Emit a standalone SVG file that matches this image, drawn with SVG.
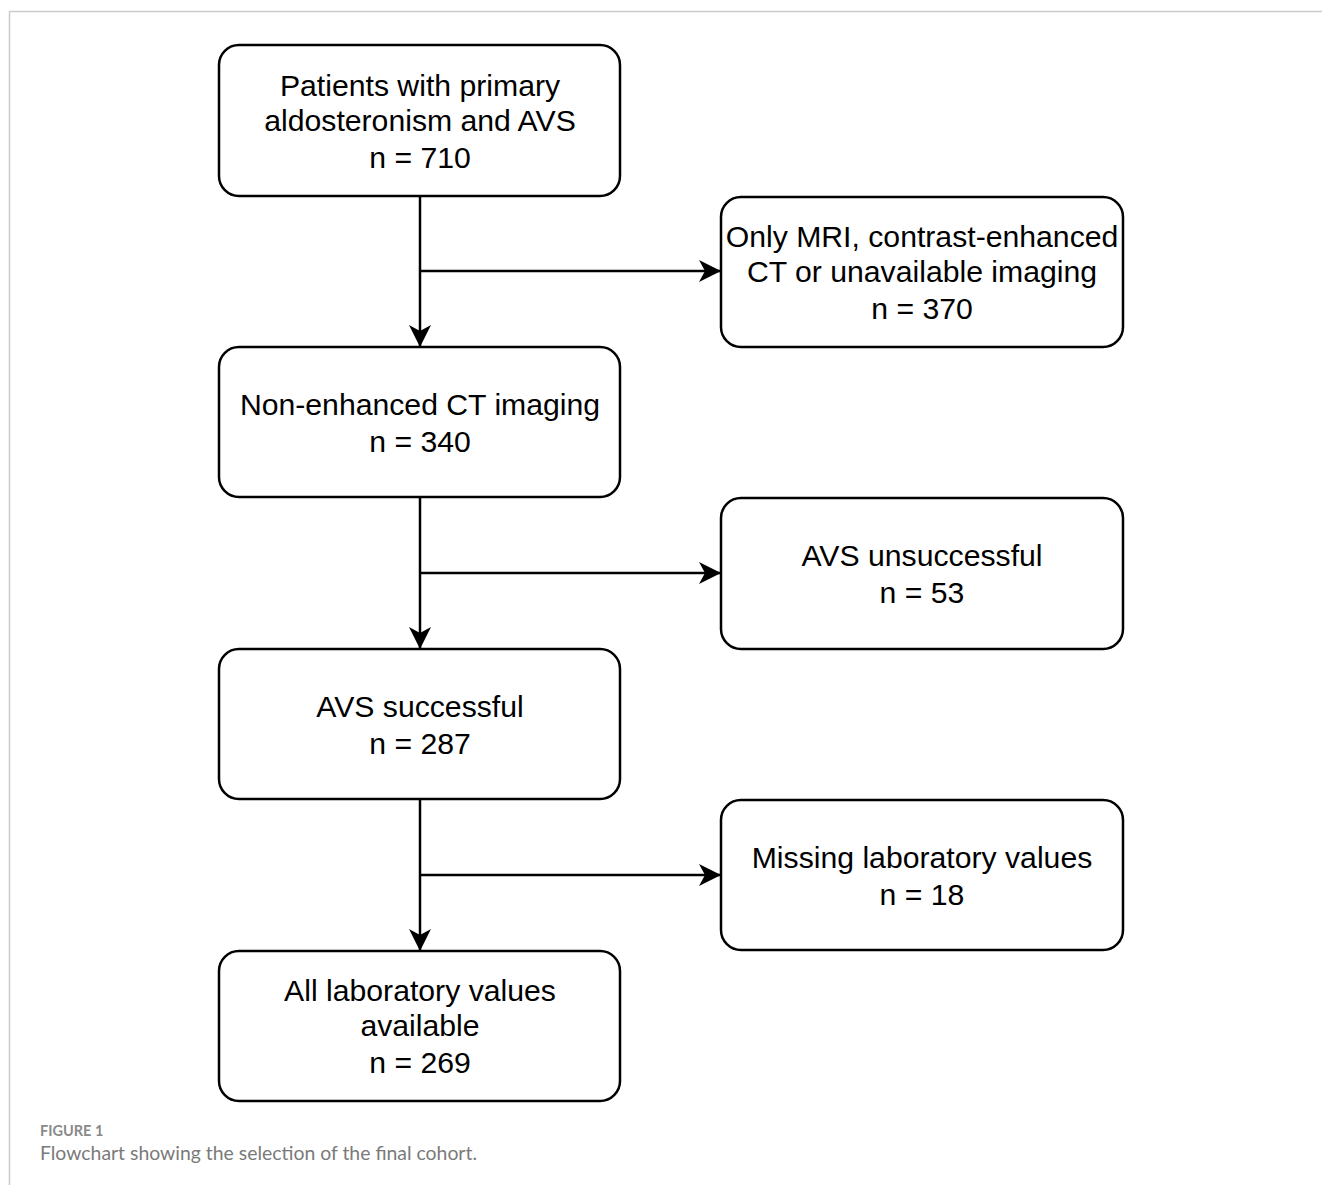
<svg xmlns="http://www.w3.org/2000/svg" width="1322" height="1185" viewBox="0 0 1322 1185">
<style>
.box{fill:#fff;stroke:#000;stroke-width:2.5}
.t{font-family:"Liberation Sans",Arial,sans-serif;font-size:30.2px;fill:#000;text-anchor:middle}
.c{fill:none;stroke:#000;stroke-width:2.5}
.frame{fill:none;stroke:#ccc;stroke-width:1.5}
</style>
<defs>
<marker id="ah" markerWidth="24" markerHeight="24" refX="22" refY="12" orient="auto" markerUnits="userSpaceOnUse">
<path d="M0,1 L22,12 L0,23 L6,12 Z" fill="#000"/>
</marker>
</defs>
<rect width="1322" height="1185" fill="#fff"/>
<path class="frame" d="M9.5,1185 V11.5 H1322"/>
<g id="connectors">
<path class="c" d="M420,196 V347" marker-end="url(#ah)"/>
<path class="c" d="M420,271 H721" marker-end="url(#ah)"/>
<path class="c" d="M420,497 V649" marker-end="url(#ah)"/>
<path class="c" d="M420,573 H721" marker-end="url(#ah)"/>
<path class="c" d="M420,799 V951" marker-end="url(#ah)"/>
<path class="c" d="M420,875 H721" marker-end="url(#ah)"/>
</g>
<g id="n1">
<rect class="box" x="219" y="45" width="401" height="151" rx="20"/>
<text class="t" x="420" y="96">Patients with primary</text>
<text class="t" x="420" y="131">aldosteronism and AVS</text>
<text class="t" x="420" y="168">n = 710</text>
</g>
<g id="n2">
<rect class="box" x="721" y="197" width="402" height="150" rx="20"/>
<text class="t" x="922" y="247">Only MRI, contrast-enhanced</text>
<text class="t" x="922" y="282">CT or unavailable imaging</text>
<text class="t" x="922" y="319">n = 370</text>
</g>
<g id="n3">
<rect class="box" x="219" y="347" width="401" height="150" rx="20"/>
<text class="t" x="420" y="415">Non-enhanced CT imaging</text>
<text class="t" x="420" y="452">n = 340</text>
</g>
<g id="n4">
<rect class="box" x="721" y="498" width="402" height="151" rx="20"/>
<text class="t" x="922" y="566">AVS unsuccessful</text>
<text class="t" x="922" y="603">n = 53</text>
</g>
<g id="n5">
<rect class="box" x="219" y="649" width="401" height="150" rx="20"/>
<text class="t" x="420" y="717">AVS successful</text>
<text class="t" x="420" y="754">n = 287</text>
</g>
<g id="n6">
<rect class="box" x="721" y="800" width="402" height="150" rx="20"/>
<text class="t" x="922" y="868">Missing laboratory values</text>
<text class="t" x="922" y="905">n = 18</text>
</g>
<g id="n7">
<rect class="box" x="219" y="951" width="401" height="150" rx="20"/>
<text class="t" x="420" y="1001">All laboratory values</text>
<text class="t" x="420" y="1036">available</text>
<text class="t" x="420" y="1073">n = 269</text>
</g>
<g id="caption">
<text x="40" y="1136" font-family="Lato,'Open Sans',sans-serif" font-size="14.5" font-weight="bold" fill="#8a8a8a">FIGURE 1</text>
<text x="40" y="1160" font-family="Lato,'Open Sans',sans-serif" font-size="19.4" fill="#7a7a7a">Flowchart showing the selection of the final cohort.</text>
</g>
</svg>
